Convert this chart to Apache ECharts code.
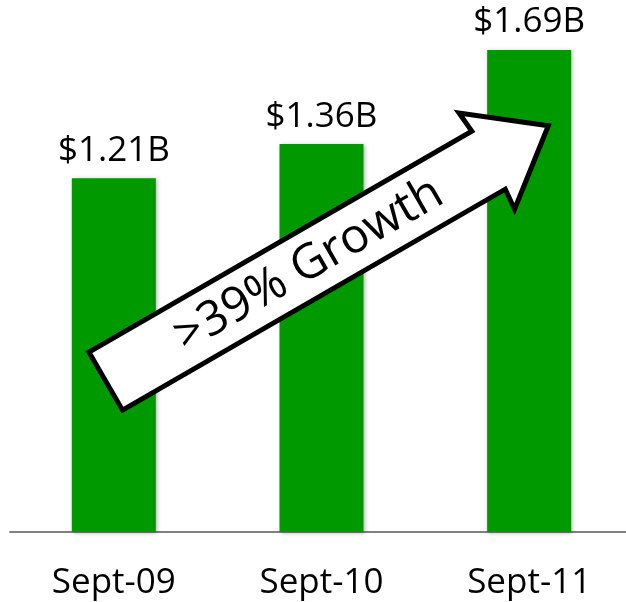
<!DOCTYPE html>
<html>
<head>
<meta charset="utf-8">
<title>Growth chart</title>
<script src="https://cdn.jsdelivr.net/npm/echarts@6/dist/echarts.min.js"></script>
<style>
  html, body { margin: 0; padding: 0; background: #fff; }
  #chart-wrapper { width: 626px; height: 602px; }
</style>
</head>
<body>
<div id="chart-wrapper"></div>
<script>
var categories = ['Sept-09', 'Sept-10', 'Sept-11'];
var barValues = [1.24, 1.36, 1.69];   // bar heights as drawn (billions)
var barLabels = ['$1.21B', '$1.36B', '$1.69B'];
var arrowText = '>39% Growth';

var fontName = '"Open Sans", "Noto Sans", sans-serif';

/*arrow shape, along-axis s and offset d from the centre line*/
function arrowPoints() {
  var ang = Math.PI / 6;
  var ux = Math.cos(ang), uy = -Math.sin(ang);
  var nx = Math.sin(ang), ny = Math.cos(ang);
  var ox = 383 * nx, oy = 383 * ny;
  var raw = [[-99, -33.5], [343, -33.5], [341, -55.5], [412, 0], [341, 55.5], [343, 33.5], [-99, 33.5]];
  var pts = [];
  for (var i = 0; i < raw.length; i++) {
    var s = raw[i][0], d = raw[i][1];
    pts.push([ox + s * ux + d * nx, oy + s * uy + d * ny]);
  }
  var c = [ox + 135 * ux + 1 * nx, oy + 135 * uy + 1 * ny];
  return { pts: pts, center: c, ang: ang };
}

var chart = echarts.init(document.getElementById('chart-wrapper'));
var arrow = arrowPoints();

var option = {
  backgroundColor: '#fff',
  animation: false,
  grid: {
    left: 10,
    width: 623,
    top: 50,
    bottom: 70,
    containLabel: false,
    outerBoundsMode: 'none'
  },
  xAxis: {
    type: 'category',
    data: categories,
    axisLine: {
      lineStyle: { color: '#808080', width: 2 }
    },
    axisTick: { show: false },
    axisLabel: {
      color: '#000',
      fontSize: 35,
      fontFamily: fontName,
      margin: 34
    }
  },
  yAxis: {
    type: 'value',
    min: 0,
    max: 1.69,
    show: false,
    splitLine: { show: false }
  },
  series: [{
    type: 'bar',
    data: barValues,
    barWidth: 84,
    itemStyle: {
      color: '#009900',
      shadowColor: 'rgba(0,0,0,0.3)',
      shadowBlur: 4,
      shadowOffsetX: 1,
      shadowOffsetY: 1
    },
    label: {
      show: true,
      position: 'top',
      distance: 10,
      color: '#000',
      fontSize: 35,
      fontFamily: fontName,
      formatter: function (p) {
        return barLabels[p.dataIndex];
      }
    }
  }],
  graphic: [{
    type: 'polygon',
    z: 100,
    shape: { points: arrow.pts },
    style: {
      fill: '#fff',
      stroke: '#000',
      lineWidth: 5,
      lineJoin: 'miter'
    }
  }, {
    type: 'text',
    z: 101,
    x: arrow.center[0],
    y: arrow.center[1],
    rotation: arrow.ang,
    style: {
      text: arrowText,
      fill: '#000',
      font: '48px ' + fontName,
      align: 'center',
      verticalAlign: 'middle'
    }
  }]
};
chart.setOption(option);
</script>
</body>
</html>
